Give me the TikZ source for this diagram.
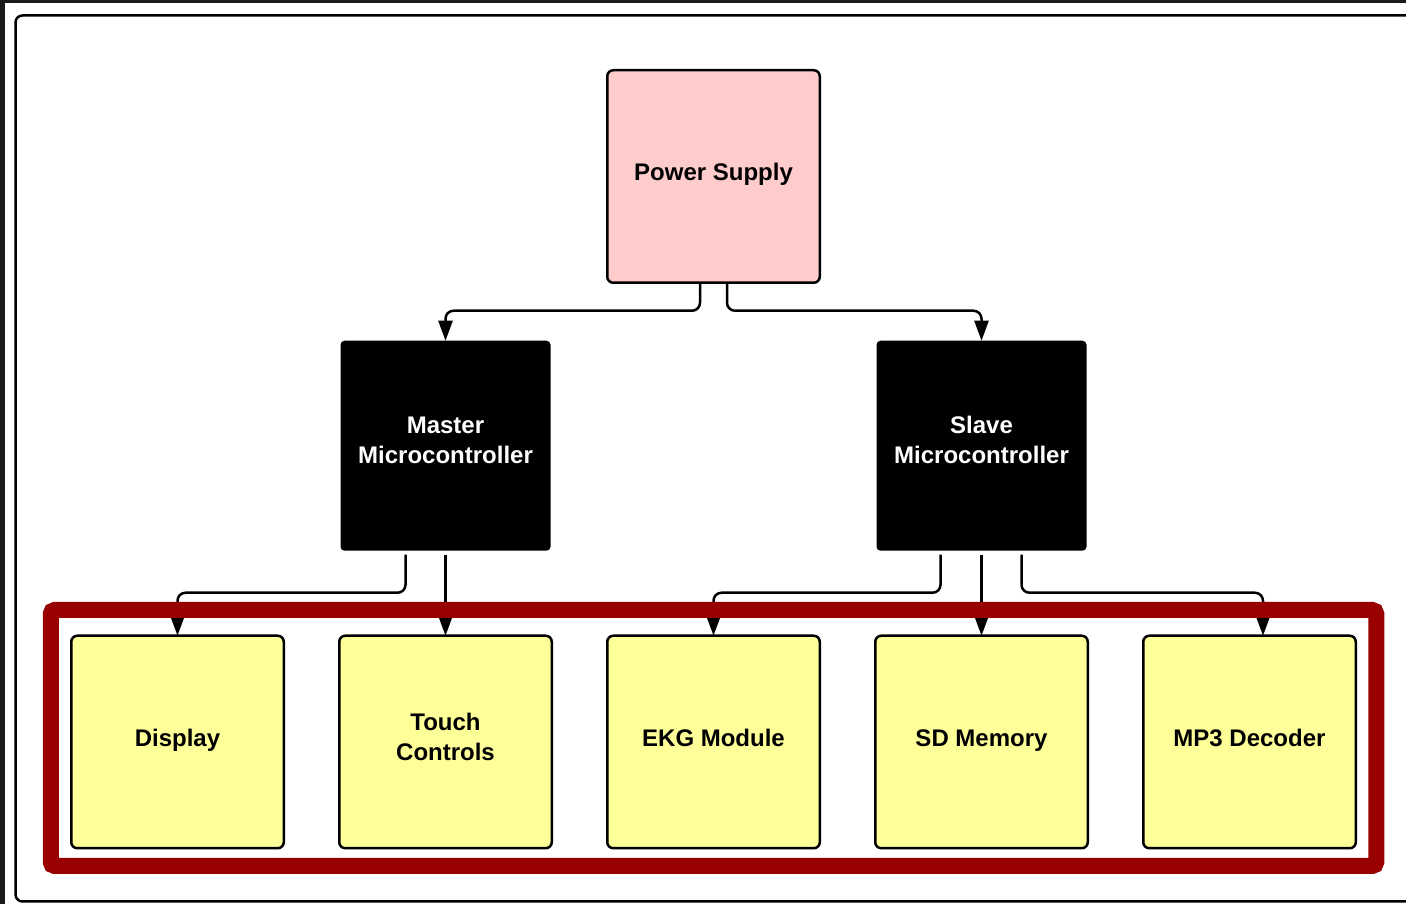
\documentclass[tikz,border=0pt]{standalone}
\usepackage{fontspec}
\setmainfont{Liberation Sans}
\usetikzlibrary{positioning,arrows.meta,fit}
\definecolor{psupink}{HTML}{FFCCCC}
\definecolor{modyellow}{HTML}{FFFF99}
\definecolor{framered}{HTML}{990000}
\definecolor{edgegray}{HTML}{1A1A1A}
\newcommand{\lblstrut}{\rule[-11pt]{0pt}{31pt}}

\begin{document}
\begin{tikzpicture}[
    x=1pt, y=1pt,
    every node/.style={font=\fontsize{24}{30}\selectfont\bfseries, align=center},
    block/.style={draw, line width=2.5pt, rounded corners=6pt, outer sep=0pt,
                  minimum width=212.5pt, minimum height=212.5pt, fill=modyellow,
                  execute at begin node=\lblstrut, execute at end node=\lblstrut},
    supply/.style={block, fill=psupink},
    mcu/.style={fill=black, text=white, rounded corners=4pt, outer sep=0pt,
                minimum width=210pt, minimum height=210pt,
                execute at begin node=\lblstrut, execute at end node=\lblstrut},
    arr/.style={-{Triangle[length=20pt, width=14pt]}, line width=2.5pt, rounded corners=8pt},
]
  \useasboundingbox (0,0) rectangle (1406,904);
  % screen edge and page frame
  \fill[edgegray] (0,0) rectangle (5,904);
  \fill[edgegray] (0,901) rectangle (1406,904);
  \draw[line width=2.5pt, rounded corners=7pt] (1406,888.5) -- (15.5,888.5) -- (15.5,2.5) -- (1406,2.5);
  % Module row
  \node[block] (ekg) at (713.5,162) {EKG Module};
  \node[block, left=55.5pt of ekg] (touch) {Touch\\Controls};
  \node[block, left=55.5pt of touch] (display) {Display};
  \node[block, right=55.5pt of ekg] (sdmem) {SD Memory};
  \node[block, right=55.5pt of sdmem] (mp3) {MP3 Decoder};
  % Controllers and supply
  \node[mcu, above=85pt of touch] (master) {Master\\Microcontroller};
  \node[mcu, above=85pt of sdmem] (slave) {Slave\\Microcontroller};
  \node[supply, above=353pt of ekg] (power) {Power Supply};
  % Connectors
  \draw[arr] ([xshift=-13.5pt]power.south) -- ++(0,-28) -| (master.north);
  \draw[arr] ([xshift=13.5pt]power.south) -- ++(0,-28) -| (slave.north);
  \draw[arr, shorten <=4pt] ([xshift=-40pt]master.south) -- ++(0,-42) -| (display.north);
  \draw[arr, shorten <=4pt] (master.south) -- (touch.north);
  \draw[arr, shorten <=4pt] ([xshift=-41pt]slave.south) -- ++(0,-42) -| (ekg.north);
  \draw[arr, shorten <=4pt] (slave.south) -- (sdmem.north);
  \draw[arr, shorten <=4pt] ([xshift=40pt]slave.south) -- ++(0,-42) -| ([xshift=13.5pt]mp3.north);
  % Highlight frame round the modules
  \node[fit=(display)(mp3), inner xsep=20.5pt, inner ysep=21.75pt, yshift=4pt,
        draw=framered, line width=16pt, rounded corners=4pt] (group) {};
\end{tikzpicture}
\end{document}
